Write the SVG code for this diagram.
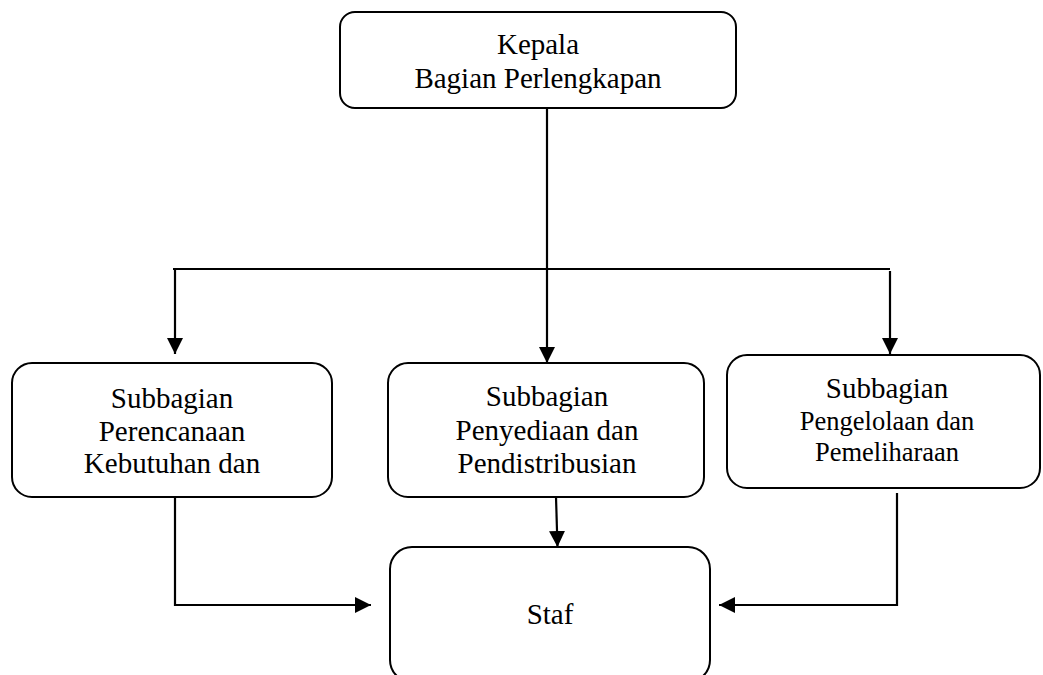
<svg xmlns="http://www.w3.org/2000/svg" width="1043" height="675" viewBox="0 0 1043 675">
<defs>
<style>
.box{fill:#fff;stroke:#000;stroke-width:2}
.t{font-family:"Liberation Serif","Times New Roman",serif;font-size:29px;fill:#000;text-anchor:middle}
.s{font-size:26.5px}
.c{fill:none;stroke:#000;stroke-width:2.2}
</style>
<marker id="ah" viewBox="0 0 16 16" refX="16" refY="8" markerWidth="16" markerHeight="16" markerUnits="userSpaceOnUse" orient="auto">
<path d="M0,0 L16,8 L0,16 Z" fill="#000"/>
</marker>
</defs>
<rect width="1043" height="675" fill="#fff"/>
<g id="connectors">
<path class="c" d="M547,108 L547,363" marker-end="url(#ah)"/>
<path class="c" d="M173,269 L890,269"/>
<path class="c" d="M175,269 L175,354" marker-end="url(#ah)"/>
<path class="c" d="M890,271 L890,354" marker-end="url(#ah)"/>
<path class="c" d="M175,497 L175,605 L371,605" marker-end="url(#ah)"/>
<path class="c" d="M556,497 L557.5,547" marker-end="url(#ah)"/>
<path class="c" d="M897,493 L897,605 L719,605" marker-end="url(#ah)"/>
</g>
<g id="kepala">
<rect class="box" x="340" y="12" width="396" height="96" rx="15"/>
<text class="t" x="538" y="54">Kepala</text>
<text class="t" x="538" y="88">Bagian Perlengkapan</text>
</g>
<g id="sub1">
<rect class="box" x="12" y="363" width="320" height="134" rx="20"/>
<text class="t" x="172" y="408">Subbagian</text>
<text class="t" x="172" y="441">Perencanaan</text>
<text class="t" x="172" y="473">Kebutuhan dan</text>
</g>
<g id="sub2">
<rect class="box" x="388" y="363" width="316" height="134" rx="20"/>
<text class="t" x="547" y="406">Subbagian</text>
<text class="t" x="547" y="440">Penyediaan dan</text>
<text class="t" x="547" y="473">Pendistribusian</text>
</g>
<g id="sub3">
<rect class="box" x="727" y="355" width="313" height="133" rx="20"/>
<text class="t" x="887" y="398">Subbagian</text>
<text class="t s" x="887" y="430">Pengelolaan dan</text>
<text class="t s" x="887" y="461">Pemeliharaan</text>
</g>
<g id="staf">
<rect class="box" x="390" y="547" width="320" height="135" rx="22"/>
<text class="t" x="550" y="624">Staf</text>
</g>
</svg>
